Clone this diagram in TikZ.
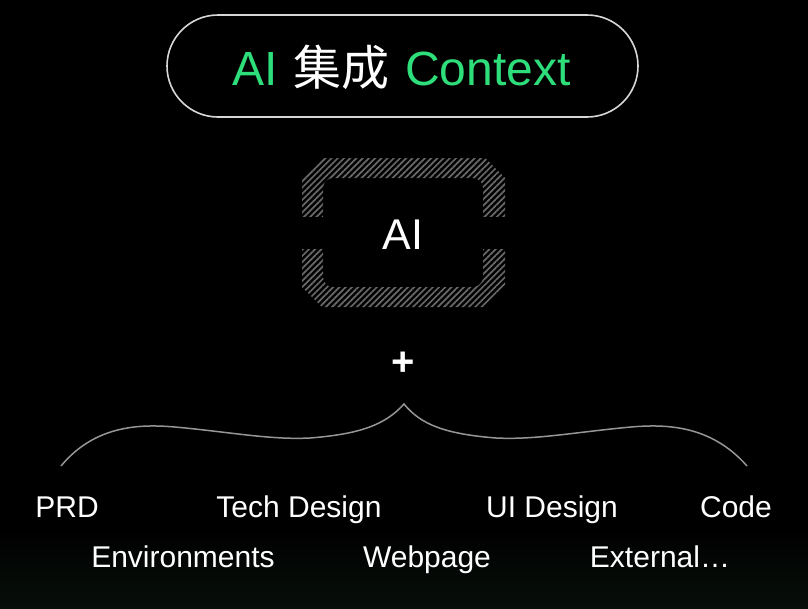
\documentclass[tikz,border=0pt]{standalone}
\usepackage{fontspec}
\setmainfont{Liberation Sans}
\newfontfamily\cjk{Noto Sans CJK SC}
\usetikzlibrary{patterns.meta}
\definecolor{bggreen}{RGB}{7,15,10}
\definecolor{titlegreen}{RGB}{46,222,122}
\definecolor{pillline}{RGB}{215,215,215}
\definecolor{bracegray}{RGB}{150,150,150}
\definecolor{hatchgray}{RGB}{105,105,105}
\tikzset{
  lbl/.style={text=white,font=\fontsize{30}{34}\selectfont,anchor=base,inner sep=0pt},
  ttl/.style={font=\fontsize{48}{54}\selectfont,anchor=base,inner sep=0pt},
}
\begin{document}
\begin{tikzpicture}[x=1pt,y=-1pt]
\fill[black] (0,0) rectangle (808,608);
\shade[top color=black,bottom color=bggreen] (0,530) rectangle (808,608);
\useasboundingbox (0,0) rectangle (808,608);
% title pill
\node[draw=pillline,line width=1.6pt,rounded corners=51pt,minimum width=471pt,minimum height=102pt,inner sep=0pt] (pill) at (402.5,66) {};
\node[ttl,text=titlegreen] (t1) at (255,85) {AI};
\node[ttl,text=white] (t2) at (341,85) {\cjk 集成};
\node[ttl,text=titlegreen] (t3) at (488,85) {Context};
% hatched AI frame
\path[even odd rule,pattern={Lines[angle=45,distance=4.4pt,line width=1.7pt]},pattern color=hatchgray]
  (302,178)--(322,158)--(485,158)--(505,178)--(505,287)--(485,307)--(322,307)--(302,287)--cycle
  [rounded corners=10pt] (323,178) rectangle (483,287);
\fill[black] (300,217) rectangle (325,249);
\fill[black] (481,217) rectangle (507,249);
\node[text=white,font=\fontsize{43}{50}\selectfont,anchor=base,inner sep=0pt] (ai) at (403,249) {AI};
% plus
\node[text=white,font=\fontsize{40}{44}\selectfont\bfseries,inner sep=0pt] (plus) at (403,364) {+};
% brace
\coordinate (bl) at (61,466);
\coordinate (bc) at (404,404);
\coordinate (br) at (747,466);
\draw[bracegray,line width=1.5pt]
  (bl) .. controls (95,425) and (140,424) .. (175,427)
  .. controls (230,432) and (270,440) .. (310,438)
  .. controls (360,434) and (385,425) .. (bc)
  .. controls (421,425) and (446,434) .. (496,438)
  .. controls (536,440) and (576,432) .. (631,427)
  .. controls (666,424) and (711,425) .. (br);
% labels
\node[lbl] (prd) at (67,517) {PRD};
\node[lbl] (tech) at (299,517) {Tech Design};
\node[lbl] (ui) at (552,517) {UI Design};
\node[lbl] (code) at (736,517) {Code};
\node[lbl] (env) at (183,567) {Environments};
\node[lbl] (web) at (427,567) {Webpage};
\node[lbl] (ext) at (660,567) {External…};
\end{tikzpicture}
\end{document}
